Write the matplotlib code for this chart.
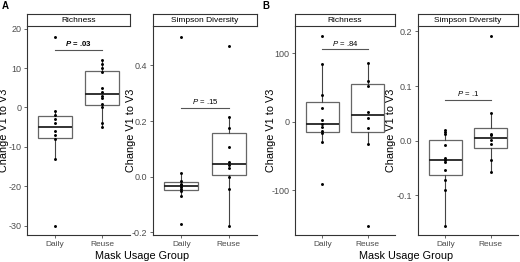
import matplotlib.pyplot as plt
import numpy as np

plt.rcParams['font.family'] = ['Liberation Sans', 'DejaVu Sans']
plt.rcParams['mathtext.fontset'] = 'custom'
plt.rcParams['mathtext.it'] = 'Liberation Sans:italic'
plt.rcParams['mathtext.bf'] = 'Liberation Sans:bold'
plt.rcParams['mathtext.bfit'] = 'Liberation Sans:italic:bold'

groups = ['Daily', 'Reuse']

# panel A
rich_a_daily = [18, -1, -2, -3, -4, -6, -7, -8, -13, -30]
rich_a_reuse = [12, 11, 10, 9, 5, 4, 3, 2.5, 1, 0, -4, -5]
simp_a_daily = [0.5, 0.012, -0.015, -0.025, -0.03, -0.035, -0.045, -0.05, -0.068, -0.17]
simp_a_reuse = [0.469, 0.215, 0.174, 0.108, 0.053, 0.042, 0.033, -0.002, -0.044, -0.177]

# panel B
rich_b_daily = [125, 84, 39, 20, 2.5, -3.5, -7, -13, -16, -29, -90]
rich_b_reuse = [86, 60, 52.5, 14.6, 5, -8.7, -32, -152]
simp_b_daily = [0.02, 0.016, 0.012, -0.008, -0.032, -0.036, -0.040, -0.054, -0.072, -0.091, -0.156]
simp_b_reuse = [0.192, 0.05, 0.013, 0.01, 0.001, -0.006, -0.036, -0.058]

p_labels = ['.03', '.15', '.84', '.1']

W, H = 520, 262
fig = plt.figure(figsize=(W / 100, H / 100), dpi=100)

top_px, strip_px, bot_px = 14, 26, 235


def px_axes(x0, x1, y0, y1):
    return fig.add_axes([x0 / W, 1 - y1 / H, (x1 - x0) / W, (y1 - y0) / H])


def ptext_y(ylim, pline):
    return pline + (ylim[1] - ylim[0]) * 0.008


def panel(x0, x1, daily, reuse, title, ylim, yticks, yfmt, pline, ptext, bold, ylab_px):
    ax = px_axes(x0, x1, strip_px, bot_px)
    ax.boxplot([daily, reuse], positions=[1, 2], widths=0.72, whis=1.5,
               showfliers=False, patch_artist=True,
               boxprops=dict(facecolor='white', edgecolor='#666666', linewidth=0.9),
               medianprops=dict(color='#222222', linewidth=1.3),
               whiskerprops=dict(color='#444444', linewidth=0.8),
               capprops=dict(linewidth=0))
    for i, vals in enumerate([daily, reuse]):
        ax.scatter(np.full(len(vals), i + 1), vals, s=4.5, color='black', zorder=3, linewidths=0)
    ax.set_xlim(0.4, 2.6)
    ax.set_ylim(*ylim)
    ax.set_xticks([1, 2])
    ax.set_xticklabels(groups, fontsize=6)
    ax.set_yticks(yticks)
    ax.set_yticklabels([yfmt.format(t) for t in yticks], fontsize=6.5)
    ax.tick_params(colors='#4d4d4d', length=2.5, width=0.6, pad=1.5, labelcolor='#4d4d4d')
    for s in ['top', 'right']:
        ax.spines[s].set_visible(False)
    for s in ['left', 'bottom']:
        ax.spines[s].set_color('#333333')
        ax.spines[s].set_linewidth(0.8)
    ax.set_ylabel('Change V1 to V3', fontsize=7.8)
    # label anchor is the right edge of the rotated text
    ax.yaxis.set_label_coords((ylab_px + 4.5 - x0) / (x1 - x0), 0.5)
    # p-value bracket
    ax.plot([1, 2], [pline, pline], color='#555555', linewidth=0.8)
    if bold:
        lab = r'$\mathbfit{P}$ = ' + ptext
        ax.text(1.5, ptext_y(ylim, pline), lab, ha='center', va='bottom', fontsize=5.6, fontweight='bold')
    else:
        lab = r'$\mathit{P}$ = ' + ptext
        ax.text(1.5, ptext_y(ylim, pline), lab, ha='center', va='bottom', fontsize=5.6)
    # strip
    sax = px_axes(x0, x1, top_px, strip_px)
    sax.set_xticks([])
    sax.set_yticks([])
    for s in sax.spines.values():
        s.set_color('#333333')
        s.set_linewidth(0.8)
    sax.text(0.5, 0.45, title, ha='center', va='center', fontsize=6, transform=sax.transAxes)
    return ax


panel(27, 130, rich_a_daily, rich_a_reuse, 'Richness', (-32.4, 20.7),
      [-30, -20, -10, 0, 10, 20], '{:d}', 14.6, p_labels[0], True, 5)
panel(153, 257, simp_a_daily, simp_a_reuse, 'Simpson Diversity', (-0.209, 0.541),
      [-0.2, 0.0, 0.2, 0.4], '{:.1f}', 0.248, p_labels[1], False, 131)
panel(295, 395, rich_b_daily, rich_b_reuse, 'Richness', (-165, 139.5),
      [-100, 0, 100], '{:d}', 105.5, p_labels[2], False, 271)
panel(418, 518, simp_b_daily, simp_b_reuse, 'Simpson Diversity', (-0.173, 0.210),
      [-0.1, 0.0, 0.1, 0.2], '{:.1f}', 0.0747, p_labels[3], False, 391)

fig.text(142 / W, 1 - 256 / H, 'Mask Usage Group', ha='center', va='center', fontsize=7.8)
fig.text(406 / W, 1 - 256 / H, 'Mask Usage Group', ha='center', va='center', fontsize=7.8)
fig.text(2 / W, 1 - 1 / H, 'A', ha='left', va='top', fontsize=7, fontweight='bold')
fig.text(262 / W, 1 - 1 / H, 'B', ha='left', va='top', fontsize=7, fontweight='bold')

fig.savefig('out.png', dpi=100)
